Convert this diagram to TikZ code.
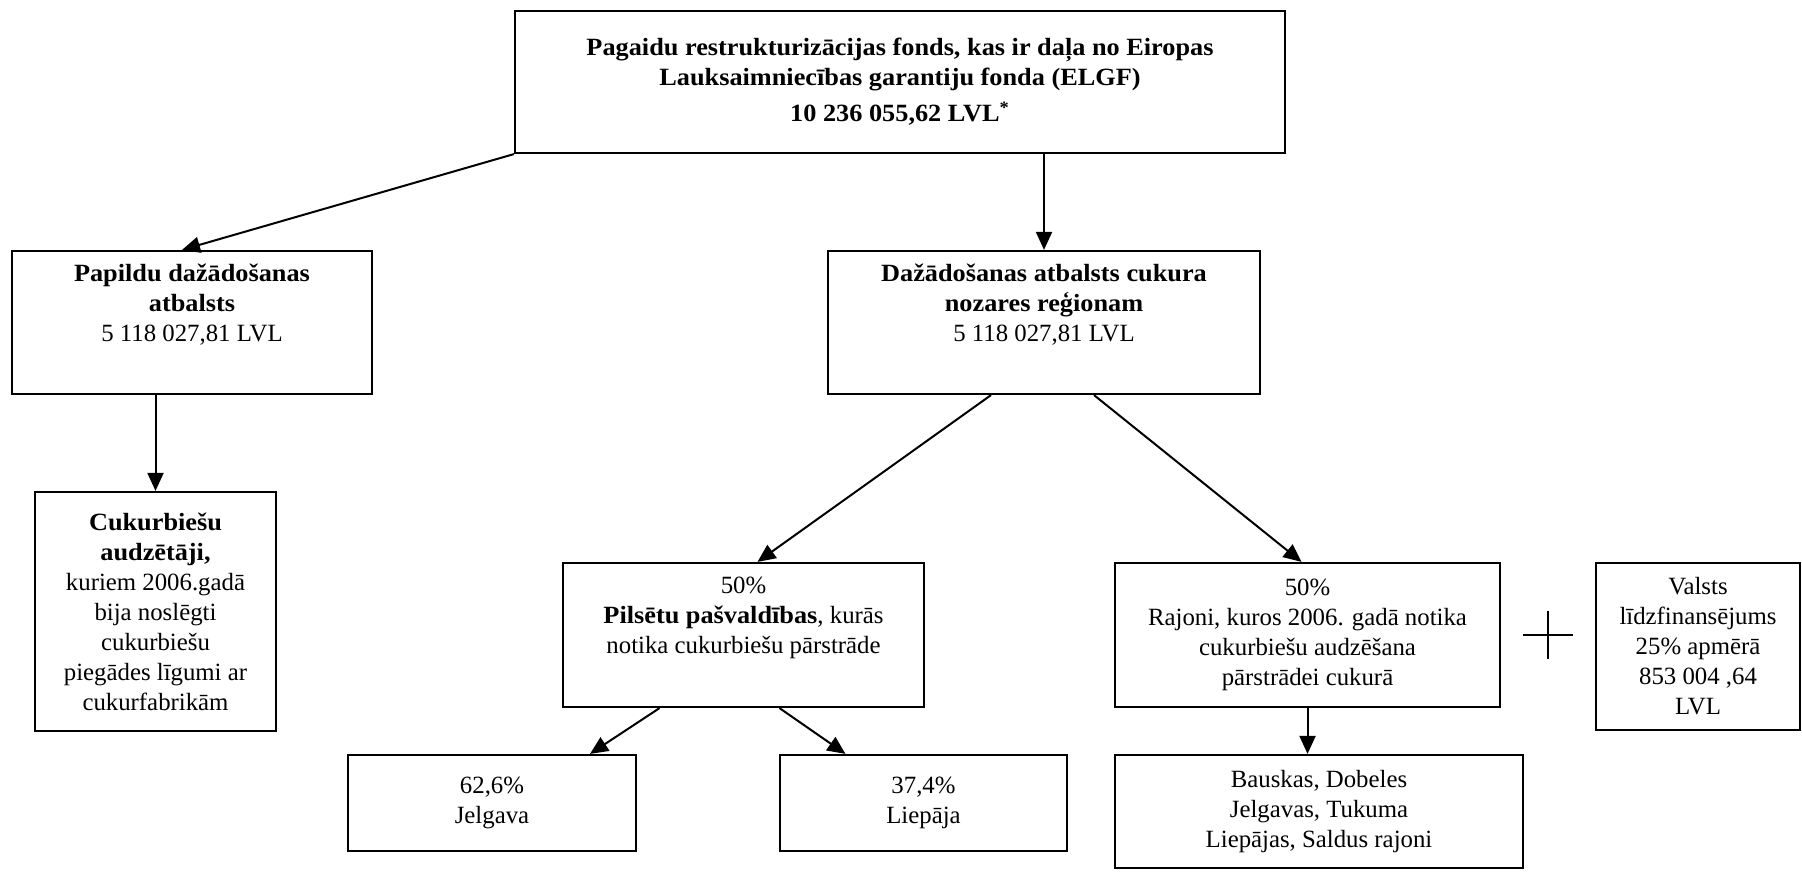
\documentclass[tikz,border=0pt]{standalone}
\usepackage{fontspec}
\setmainfont[BoldFeatures={FakeStretch=1.06}]{Liberation Serif}
\usetikzlibrary{positioning,arrows.meta,calc}
\tikzset{
  box/.style={draw=black, line width=1.1pt, align=center, inner sep=2pt},
  flow/.style={line width=1pt, -{Triangle[length=9pt,width=8pt]}}
}

\begin{document}
\begin{tikzpicture}[x=0.5pt, y=-0.5pt, font=\fontsize{12.4}{15}\selectfont]
    \useasboundingbox (0,0) rectangle (1802,872);

    \node[box, minimum width=385pt, minimum height=71pt] (fund) at (900,82)
        {\textbf{Pagaidu restrukturizācijas fonds, kas ir daļa no Eiropas}\\
         \textbf{Lauksaimniecības garantiju fonda (ELGF)}\\[3pt]
         \textbf{10 236 055,62 LVL\textsuperscript{*}}};
    \node[box, minimum width=180pt, minimum height=71.5pt] (extra) at (192,322.5)
        {\textbf{Papildu dažādošanas}\\ \textbf{atbalsts}\\ 5 118 027,81 LVL\\ \strut};
    \node[box, minimum width=216pt, minimum height=71.5pt] (region) at (1044,322.5)
        {\textbf{Dažādošanas atbalsts cukura}\\ \textbf{nozares reģionam}\\ 5 118 027,81 LVL\\ \strut};
    \node[box, minimum width=120.5pt, minimum height=119.5pt] (growers) at (155.5,611.5)
        {\textbf{Cukurbiešu}\\ \textbf{audzētāji,}\\ kuriem 2006.gadā\\ bija noslēgti\\
         cukurbiešu\\ piegādes līgumi ar\\ cukurfabrikām};
    \node[box, minimum width=180.5pt, minimum height=72pt] (towns) at (743.5,635)
        {50\%\\ \textbf{Pilsētu pašvaldības}, kurās\\ notika cukurbiešu pārstrāde\\ \strut};
    \node[box, minimum width=192.5pt, minimum height=72pt] (districts) at (1307.5,635)
        {50\%\\ Rajoni, kuros 2006. gadā notika\\ cukurbiešu audzēšana\\ pārstrādei cukurā};
    \node[box, minimum width=102pt, minimum height=83.5pt] (state) at (1698,646.5)
        {Valsts\\ līdzfinansējums\\ 25\% apmērā\\ 853 004 ,64\\ LVL};
    \node[box, minimum width=144pt, minimum height=48pt] (jelgava) at (492,803)
        {62,6\%\\ Jelgava};
    \node[box, minimum width=143.5pt, minimum height=48pt] (liepaja) at (923.5,803)
        {37,4\%\\ Liepāja};
    \node[box, minimum width=204pt, minimum height=56.5pt] (list) at (1319,811.5)
        {Bauskas, Dobeles\\ Jelgavas, Tukuma\\ Liepājas, Saldus rajoni};

    \draw[flow] (fund.south west) -- ([xshift=-5pt]extra.north);
    \draw[flow] (fund.south -| region.north) -- (region.north);
    \draw[flow] (extra.south -| growers.north) -- (growers.north);
    \draw[flow] ([xshift=-26.5pt]region.south) -- ([xshift=7pt]towns.north);
    \draw[flow] ([xshift=25pt]region.south) -- ([xshift=-3pt]districts.north);
    \draw[flow] ([xshift=-42pt]towns.south) -- ([xshift=49pt]jelgava.north);
    \draw[flow] ([xshift=18pt]towns.south) -- ([xshift=-39pt]liepaja.north);
    \draw[flow] (districts.south) -- (districts.south |- list.north);

    % plus sign between the district share and the state share
    \coordinate (plus) at (1548,635);
    \draw[line width=0.6pt] ($(plus)+(-25,0)$) -- ($(plus)+(25,0)$);
    \draw[line width=0.6pt] ($(plus)+(0,-24)$) -- ($(plus)+(0,24)$);
\end{tikzpicture}
\end{document}
